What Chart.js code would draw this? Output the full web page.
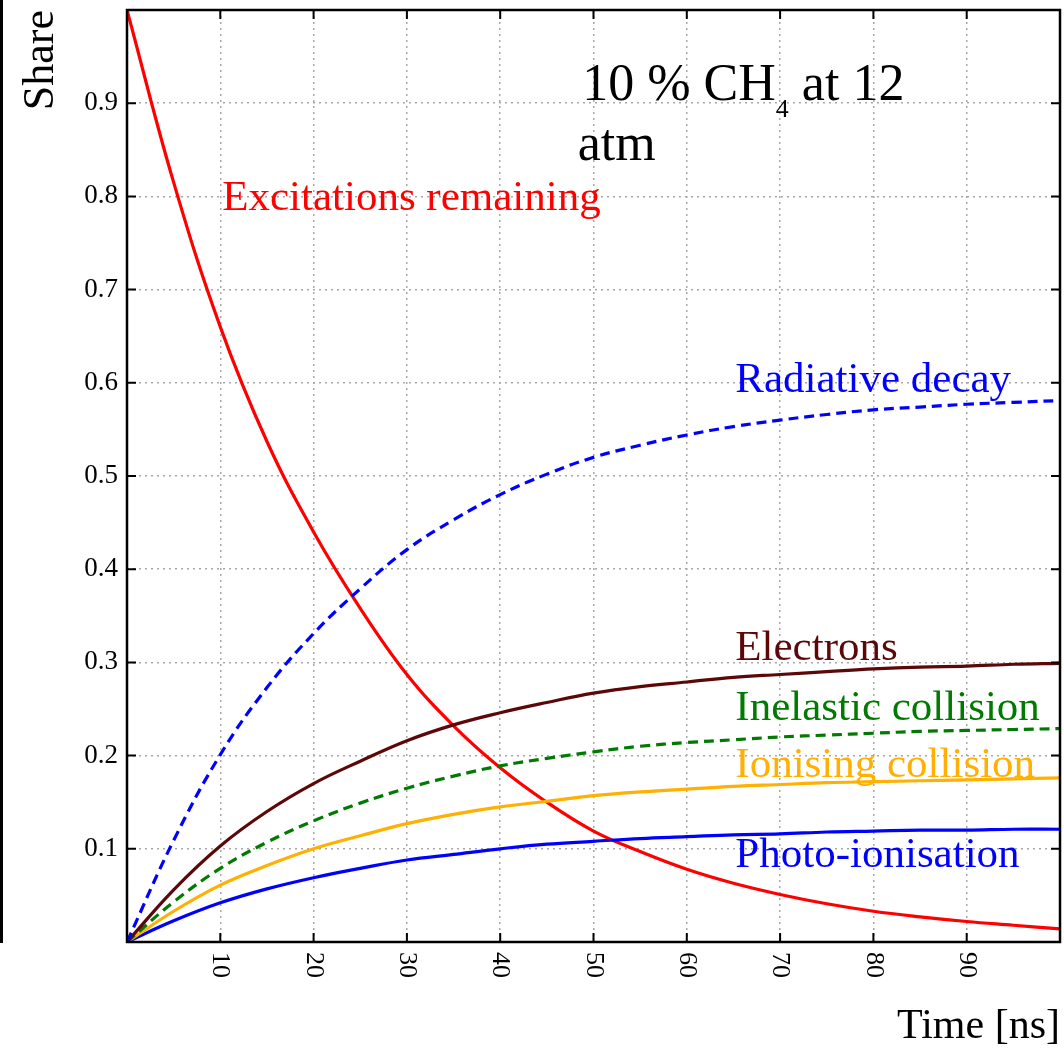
<!DOCTYPE html>
<html>
<head>
<meta charset="utf-8">
<script src="https://cdn.jsdelivr.net/npm/chart.js"></script>
<style>
  body { margin: 0; background: #fff; }
  #wrap { position: relative; width: 1064px; height: 1052px; }
  #edge { position: absolute; left: 0; top: 0; width: 3px; height: 943px; background: #000; }
</style>
</head>
<body>
<div id="wrap">
  <canvas id="shareChart" width="1064" height="1052"></canvas>
  <div id="edge"></div>
</div>
<script>
// time axis [ns]
const timeNs = [0, 5, 10, 15, 20, 25, 30, 35, 40, 45, 50, 55, 60, 65, 70, 75, 80, 85, 90, 95, 100];

// shares
const excitations = [1.0, 0.815, 0.660, 0.537, 0.440, 0.358, 0.287, 0.232, 0.187, 0.150, 0.119, 0.097, 0.078, 0.063, 0.051, 0.041, 0.033, 0.027, 0.022, 0.018, 0.014];
const radiative   = [0, 0.109, 0.201, 0.273, 0.331, 0.379, 0.421, 0.453, 0.480, 0.502, 0.520, 0.533, 0.544, 0.553, 0.560, 0.566, 0.571, 0.574, 0.577, 0.579, 0.581];
const electrons   = [0, 0.056, 0.103, 0.140, 0.170, 0.194, 0.216, 0.233, 0.246, 0.257, 0.267, 0.274, 0.279, 0.284, 0.287, 0.290, 0.293, 0.295, 0.296, 0.298, 0.299];
const inelastic   = [0, 0.043, 0.079, 0.107, 0.130, 0.149, 0.165, 0.178, 0.189, 0.197, 0.204, 0.210, 0.214, 0.217, 0.220, 0.222, 0.224, 0.226, 0.227, 0.228, 0.229];
const ionising    = [0, 0.033, 0.061, 0.082, 0.100, 0.114, 0.127, 0.137, 0.145, 0.151, 0.157, 0.161, 0.164, 0.167, 0.169, 0.171, 0.172, 0.173, 0.174, 0.175, 0.176];
const photoIon    = [0, 0.0227, 0.042, 0.057, 0.069, 0.079, 0.088, 0.094, 0.100, 0.105, 0.108, 0.111, 0.113, 0.115, 0.116, 0.118, 0.119, 0.120, 0.120, 0.121, 0.121];

const xTickValues = [10, 20, 30, 40, 50, 60, 70, 80, 90];
const yTickValues = [0.1, 0.2, 0.3, 0.4, 0.5, 0.6, 0.7, 0.8, 0.9];

const serif = '"Liberation Serif", "Times New Roman", serif';

// curve labels (anchored in data coordinates)
const curveLabels = [
  { text: "Excitations remaining", x: 10.2, y: 0.785, color: "#ff0000" },
  { text: "Radiative decay", x: 65.2, y: 0.590, color: "#0000ff" },
  { text: "Electrons", x: 65.2, y: 0.3025, color: "#5c0808" },
  { text: "Inelastic collision", x: 65.2, y: 0.238, color: "#007a00" },
  { text: "Ionising collision", x: 65.2, y: 0.177, color: "#ffb000" },
  { text: "Photo-ionisation", x: 65.2, y: 0.0805, color: "#0000ff" },
];

function toPoints(values) {
  return timeNs.map((t, i) => ({ x: t, y: values[i] }));
}

function series(label, values, color, dash) {
  return {
    label,
    data: toPoints(values),
    borderColor: color,
    borderWidth: 3.2,
    borderDash: dash || [],
    pointRadius: 0,
    fill: false,
    tension: 0.4,
  };
}

const decorations = {
  id: "decorations",
  afterDatasetsDraw(chart) {
    const { ctx, scales: { x, y } } = chart;
    ctx.save();
    ctx.textAlign = "left";
    ctx.textBaseline = "alphabetic";
    ctx.font = "43px " + serif;
    curveLabels.forEach((l) => {
      ctx.fillStyle = l.color;
      ctx.fillText(l.text, x.getPixelForValue(l.x), y.getPixelForValue(l.y));
    });

    // "10 % CH4 at 12 atm"
    ctx.fillStyle = "#000";
    let px = x.getPixelForValue(48.8);
    const py = y.getPixelForValue(0.903);
    ctx.font = "52px " + serif;
    ctx.fillText("10 % CH", px, py);
    px += ctx.measureText("10 % CH").width;
    ctx.font = "26px " + serif;
    ctx.fillText("4", px, py + 17);
    px += ctx.measureText("4").width;
    ctx.font = "52px " + serif;
    ctx.fillText(" at 12", px, py);
    ctx.fillText("atm", x.getPixelForValue(48.3), y.getPixelForValue(0.839));
    ctx.restore();
  },
  afterDraw(chart) {
    const { ctx, chartArea: a, scales: { x, y } } = chart;
    ctx.save();
    ctx.strokeStyle = "#000";
    ctx.lineWidth = 2;
    ctx.beginPath();
    xTickValues.forEach((v) => {
      const p = x.getPixelForValue(v);
      ctx.moveTo(p, a.bottom); ctx.lineTo(p, a.bottom - 9);
      ctx.moveTo(p, a.top); ctx.lineTo(p, a.top + 9);
    });
    yTickValues.forEach((v) => {
      const p = y.getPixelForValue(v);
      ctx.moveTo(a.left, p); ctx.lineTo(a.left + 9, p);
      ctx.moveTo(a.right, p); ctx.lineTo(a.right - 9, p);
    });
    ctx.stroke();
    ctx.lineWidth = 2.5;
    ctx.strokeRect(a.left, a.top, a.right - a.left, a.bottom - a.top);

    // x tick labels, turned clockwise
    ctx.fillStyle = "#000";
    ctx.font = "26px " + serif;
    ctx.textAlign = "left";
    ctx.textBaseline = "middle";
    xTickValues.forEach((v) => {
      ctx.save();
      ctx.translate(x.getPixelForValue(v), a.bottom + 10);
      ctx.rotate(Math.PI / 2);
      ctx.fillText(String(v), 0, 0);
      ctx.restore();
    });

    // y axis title
    ctx.save();
    ctx.font = "44px " + serif;
    ctx.textAlign = "right";
    ctx.textBaseline = "alphabetic";
    ctx.translate(53, a.top);
    ctx.rotate(-Math.PI / 2);
    ctx.fillText("Share", 0, 0);
    ctx.restore();
    ctx.restore();
  },
};

new Chart(document.getElementById("shareChart"), {
  type: "line",
  data: {
    datasets: [
      series("Radiative decay", radiative, "#0000ff", [10, 6]),
      series("Electrons", electrons, "#5c0808"),
      series("Inelastic collision", inelastic, "#007a00", [10, 6]),
      series("Ionising collision", ionising, "#ffb000"),
      series("Photo-ionisation", photoIon, "#0000ff"),
      series("Excitations remaining", excitations, "#ff0000"),
    ],
  },
  options: {
    responsive: false,
    animation: false,
    layout: { padding: { top: 10, right: 4, left: 0, bottom: 0 } },
    plugins: {
      legend: { display: false },
      tooltip: { enabled: false },
    },
    scales: {
      x: {
        type: "linear",
        min: 0,
        max: 100,
        ticks: { stepSize: 10, display: false },
        grid: { color: "#a8a8a8", lineWidth: 1.5, drawTicks: false },
        border: { display: false, dash: [2, 4] },
        title: {
          display: true,
          text: "Time [ns]",
          align: "end",
          color: "#000",
          font: { family: serif, size: 42 },
          padding: { top: 0, bottom: 0 },
        },
        afterFit(scale) {
          scale.height = 110;
          scale.paddingLeft = 0;
          scale.paddingRight = 0;
        },
      },
      y: {
        min: 0,
        max: 1,
        ticks: {
          stepSize: 0.1,
          color: "#000",
          padding: 9,
          font: { family: serif, size: 27 },
          callback: (v) => (v <= 0.001 || v >= 0.999 ? "" : Number(v).toFixed(1)),
        },
        grid: { color: "#a8a8a8", lineWidth: 1.5, drawTicks: false },
        border: { display: false, dash: [2, 4] },
        title: { display: false },
        afterFit(scale) {
          scale.width = 127;
          scale.paddingTop = 0;
          scale.paddingBottom = 0;
        },
      },
    },
  },
  plugins: [decorations],
});
</script>
</body>
</html>
